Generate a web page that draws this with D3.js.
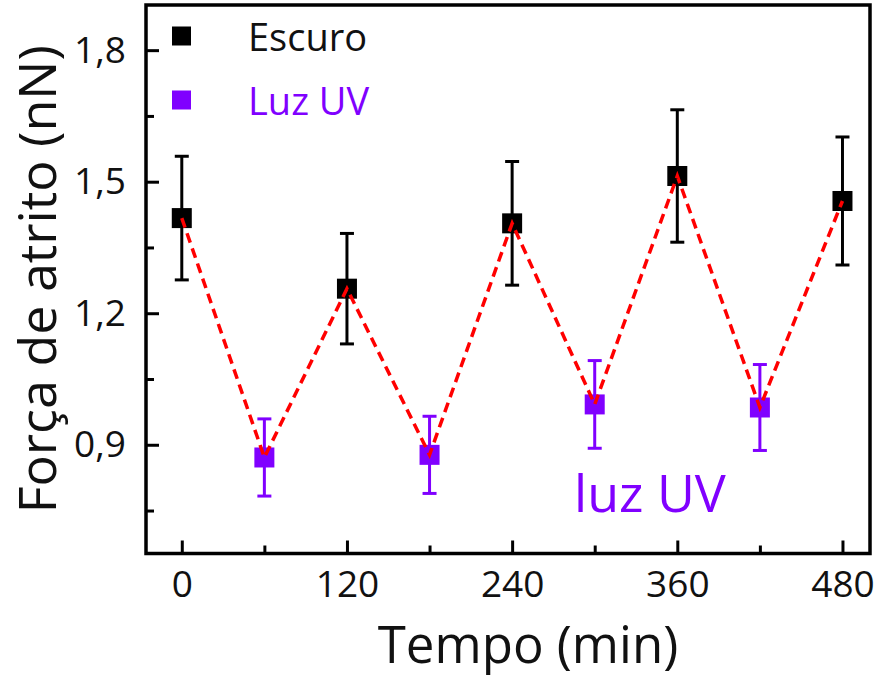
<!DOCTYPE html>
<html><head><meta charset="utf-8">
<script src="https://cdn.jsdelivr.net/npm/d3@7"></script>
<style>body{margin:0;background:#fff}svg{display:block}text{font-family:"Open Sans",sans-serif}</style>
</head><body>
<script>
const times = [0, 60, 120, 180, 240, 300, 360, 420, 480];
const escuroTimes = [0, 120, 240, 360, 480];
const escuroValues = [1.417, 1.256, 1.405, 1.513, 1.456];
const escuroErrors = [0.141, 0.126, 0.141, 0.151, 0.146];
const uvTimes = [60, 180, 300, 420];
const uvValues = [0.871, 0.877, 0.992, 0.985];
const uvErrors = [0.088, 0.088, 0.100, 0.098];
const xTicks = [0, 120, 240, 360, 480];
const xMinor = [60, 180, 300, 420];
const yTicks = [0.9, 1.2, 1.5, 1.8];
const yTickLabels = ["0,9", "1,2", "1,5", "1,8"];
const yMinor = [0.75, 1.05, 1.35, 1.65];
const seriesNames = ["Escuro", "Luz UV"];

const W = 881, H = 680;
const purple = "#8000ff";
const svg = d3.select("body").append("svg").attr("width", W).attr("height", H);
const x = d3.scaleLinear().domain([-26, 500]).range([146, 870]);
const y = d3.scaleLinear().domain([0.652, 1.903]).range([553.5, 5]);

// ticks (inward)
const gx = svg.append("g").attr("transform", `translate(0,${y.range()[0]})`);
gx.call(d3.axisBottom(x).tickValues(xTicks).tickSize(-13).tickPadding(17).tickFormat(d3.format("d")));
gx.append("g").call(d3.axisBottom(x).tickValues(xMinor).tickSize(-8).tickFormat(""));
const gy = svg.append("g").attr("transform", `translate(${x.range()[0]},0)`);
gy.call(d3.axisLeft(y).tickValues(yTicks).tickSize(-13).tickPadding(20).tickFormat((d,i)=>yTickLabels[i]));
gy.append("g").call(d3.axisLeft(y).tickValues(yMinor).tickSize(-8).tickFormat(""));
svg.selectAll(".domain").remove();
svg.selectAll(".tick line").attr("stroke", "#000").attr("stroke-width", 3);
svg.selectAll(".tick text").attr("font-size", 37).attr("fill", "#111").attr("font-family", "Open Sans");

// frame
svg.append("rect").attr("x", x.range()[0]).attr("y", y.range()[1])
  .attr("width", x.range()[1]-x.range()[0]).attr("height", y.range()[0]-y.range()[1])
  .attr("fill", "none").attr("stroke", "#000").attr("stroke-width", 3.5);

// data
const esc = escuroTimes.map((t,i)=>({t, v:escuroValues[i], e:escuroErrors[i], c:"#000"}));
const uv = uvTimes.map((t,i)=>({t, v:uvValues[i], e:uvErrors[i], c:purple}));
const all = esc.concat(uv);
const allSorted = times.map(t => all.find(d=>d.t===t));

const eb = svg.append("g");
all.forEach(d=>{
  const cx = x(d.t);
  eb.append("line").attr("x1", cx).attr("x2", cx).attr("y1", y(d.v+d.e)).attr("y2", y(d.v-d.e)).attr("stroke", d.c).attr("stroke-width", 3);
  [d.v+d.e, d.v-d.e].forEach(v=>{
    eb.append("line").attr("x1", cx-7).attr("x2", cx+7).attr("y1", y(v)).attr("y2", y(v)).attr("stroke", d.c).attr("stroke-width", 3);
  });
});
svg.append("g").selectAll("rect").data(all).join("rect")
  .attr("x", d=>x(d.t)-10).attr("y", d=>y(d.v)-10).attr("width", 20).attr("height", 20).attr("fill", d=>d.c);

svg.append("path").datum(allSorted)
  .attr("d", d3.line().x(d=>x(d.t)).y(d=>y(d.v)))
  .attr("fill", "none").attr("stroke", "#ff0000").attr("stroke-width", 3.5).attr("stroke-dasharray", "10,6");

// legend
const leg = [{n:seriesNames[0], c:"#000", y:36}, {n:seriesNames[1], c:purple, y:100}];
leg.forEach(l=>{
  svg.append("rect").attr("x", 172).attr("y", l.y-9.5).attr("width", 19).attr("height", 19).attr("fill", l.c);
  svg.append("text").attr("x", 248).attr("y", l.y+15).attr("font-size", 38).attr("fill", l.c==="#000"?"#111":l.c).text(l.n);
});

// annotation
svg.append("text").attr("x", 574).attr("y", 512).attr("font-size", 52).attr("fill", purple).text("luz UV");

// axis titles
svg.append("text").attr("x", (x.range()[0]+x.range()[1])/2 + 20).attr("y", 663).attr("text-anchor", "middle")
  .attr("font-size", 51).attr("fill", "#111").text("Tempo (min)");
svg.append("text").attr("transform", `translate(56,${(y.range()[0]+y.range()[1])/2}) rotate(-90)`)
  .attr("text-anchor", "middle").attr("font-size", 52).attr("fill", "#111").text("Força de atrito (nN)");
</script>
</body></html>
